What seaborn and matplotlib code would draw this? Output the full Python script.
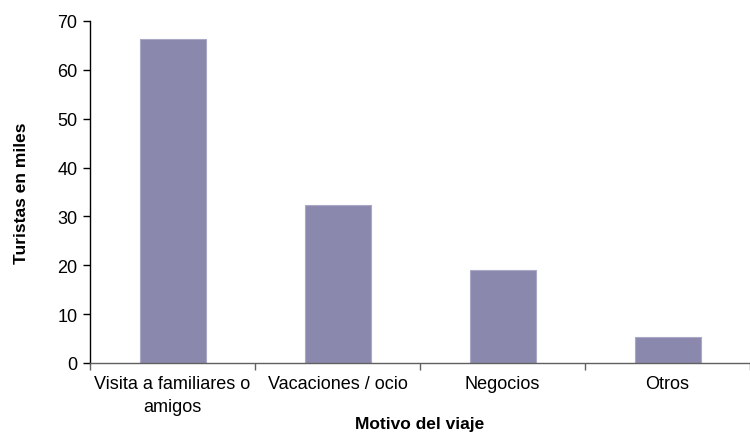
import matplotlib
matplotlib.use("Agg")
import matplotlib.pyplot as plt
import seaborn as sns
import pandas as pd

# Datos
motivos = ["Visita a familiares o\namigos", "Vacaciones / ocio", "Negocios", "Otros"]
turistas = [66.3, 32.3, 19.0, 5.4]

df = pd.DataFrame({"motivo": motivos, "turistas": turistas})

sns.set_style("white")
plt.rcParams["font.family"] = ["Liberation Sans", "DejaVu Sans"]
plt.rcParams["text.color"] = "black"
plt.rcParams["axes.labelcolor"] = "black"
plt.rcParams["xtick.color"] = "black"
plt.rcParams["ytick.color"] = "black"

fig = plt.figure(figsize=(7.5, 4.39), dpi=100)
ax = fig.add_axes([0.12, 0.171, 0.88, 0.779])

sns.barplot(data=df, x="motivo", y="turistas", color="#8A89AD",
            saturation=1, width=0.4, edgecolor="#A9A8C6", linewidth=0.8, ax=ax)

ax.set_ylim(0, 70)
ax.set_yticks(range(0, 71, 10))
ax.set_xlim(-0.5, 3.5)

# Ticks
ax.tick_params(axis="y", which="major", direction="out", length=5, width=1,
               color="black", labelsize=13, left=True, pad=4)
ax.tick_params(axis="x", which="major", length=0, labelsize=13, pad=9)
for lbl in ax.get_xticklabels():
    lbl.set_linespacing(1.4)
ax.set_xticks([-0.5, 0.5, 1.5, 2.5, 3.5], minor=True)
ax.tick_params(axis="x", which="minor", direction="out", length=5, width=1,
               color="#606060", bottom=True)

for side in ["top", "right"]:
    ax.spines[side].set_visible(False)
ax.spines["left"].set_color("black")
ax.spines["left"].set_linewidth(1)
ax.spines["bottom"].set_color("#606060")
ax.spines["bottom"].set_linewidth(1)

ax.set_xlabel("Motivo del viaje", fontsize=12.5, fontweight="bold", labelpad=1)
ax.set_ylabel("Turistas en miles", fontsize=12.5, fontweight="bold", labelpad=20)

fig.savefig("out.png", dpi=100)
